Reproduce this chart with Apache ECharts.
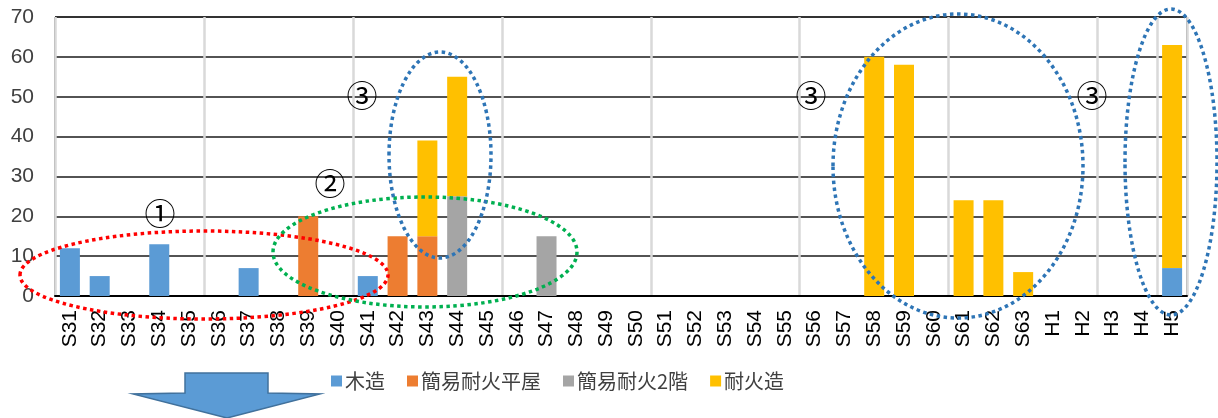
<!DOCTYPE html>
<html>
<head>
<meta charset="utf-8">
<script src="https://cdn.jsdelivr.net/npm/echarts@6/dist/echarts.min.js"></script>
<style>
  html, body { margin: 0; padding: 0; background: #fff; }
  #chart { width: 1218px; height: 418px; }
</style>
</head>
<body>
<div id="chart"></div>
<script>
// years (Showa / Heisei)
const years = ['S31', 'S32', 'S33', 'S34', 'S35', 'S36', 'S37', 'S38', 'S39', 'S40',
  'S41', 'S42', 'S43', 'S44', 'S45', 'S46', 'S47', 'S48', 'S49', 'S50',
  'S51', 'S52', 'S53', 'S54', 'S55', 'S56', 'S57', 'S58', 'S59', 'S60',
  'S61', 'S62', 'S63', 'H1', 'H2', 'H3', 'H4', 'H5'];

const seriesNames = ['木造', '簡易耐火平屋', '簡易耐火2階', '耐火造'];

const wood = [12, 5, null, 13, null, null, 7, null, null, null,
  5, null, null, null, null, null, null, null, null, null,
  null, null, null, null, null, null, null, null, null, null,
  null, null, null, null, null, null, null, 7];
const simpleOneStory = [null, null, null, null, null, null, null, null, 20, null,
  null, 15, 15, null, null, null, null, null, null, null,
  null, null, null, null, null, null, null, null, null, null,
  null, null, null, null, null, null, null, null];
const simpleTwoStory = [null, null, null, null, null, null, null, null, null, null,
  null, null, null, 25, null, null, 15, null, null, null,
  null, null, null, null, null, null, null, null, null, null,
  null, null, null, null, null, null, null, null];
const fireproof = [null, null, null, null, null, null, null, null, null, null,
  null, null, 24, 30, null, null, null, null, null, null,
  null, null, null, null, null, null, null, 60, 58, null,
  24, 24, 6, null, null, null, null, 56];

const colors = ['#5B9BD5', '#ED7D31', '#A5A5A5', '#FFC000'];

const chart = echarts.init(document.getElementById('chart'), null, { renderer: 'canvas' });

const dotted = (cx, cy, rx, ry, color) => ({
  type: 'ellipse',
  z: 100,
  shape: { cx, cy, rx, ry },
  style: { fill: 'none', stroke: color, lineWidth: 3.5, lineDash: [3.5, 3.5] }
});
const mark = (x, y, t) => ({
  type: 'text',
  z: 100,
  x, y,
  style: {
    text: t, fill: '#000', font: '31px "Noto Sans CJK JP"',
    align: 'center', verticalAlign: 'middle'
  }
});

const option = {
  animation: false,
  color: colors,
  grid: {
    left: 55, right: 31, top: 17, bottom: 122,
    show: true, borderColor: '#000', borderWidth: 1, containLabel: false
  },
  legend: {
    bottom: 22, left: 326,
    itemWidth: 11, itemHeight: 11, itemGap: 22,
    icon: 'rect',
    textStyle: { fontFamily: '"Noto Sans CJK JP"', fontSize: 20, color: '#404040', padding: [0, 0, 0, -2] },
    data: seriesNames
  },
  xAxis: {
    type: 'category',
    data: years,
    axisLine: { lineStyle: { color: '#000', width: 2 } },
    axisTick: { show: false },
    axisLabel: {
      rotate: 90, interval: 0, margin: 14,
      fontFamily: '"Liberation Sans", Arial', fontSize: 21, color: '#000'
    },
    splitLine: { show: true, interval: 4, lineStyle: { color: '#D9D9D9', width: 2.5 } }
  },
  yAxis: {
    type: 'value',
    min: 0, max: 70, interval: 10,
    axisLine: { show: false },
    axisTick: { show: false },
    axisLabel: {
      margin: 21,
      fontFamily: '"Liberation Sans", Arial', fontSize: 21, color: '#404040'
    },
    splitLine: { lineStyle: { color: '#1a1a1a', width: 1.5 } }
  },
  series: [wood, simpleOneStory, simpleTwoStory, fireproof].map((d, i) => ({
    name: seriesNames[i],
    type: 'bar',
    stack: 'total',
    barWidth: 20,
    data: d
  })),
  graphic: [
    // down arrow under the chart
    {
      type: 'polygon',
      shape: { points: [[185, 373], [268, 373], [268, 393], [320, 394], [227, 418], [133, 394], [185, 393]] },
      style: { fill: '#5B9BD5', stroke: '#41719C', lineWidth: 1.5 }
    },
    dotted(204, 275, 184, 44, '#FF0000'),
    dotted(425, 252, 152, 55, '#00B050'),
    dotted(440, 155, 51, 103, '#2E75B6'),
    dotted(958, 166, 125, 152, '#2E75B6'),
    dotted(1171, 162, 46, 153, '#2E75B6'),
    mark(160, 213, '①'),
    mark(330, 183, '②'),
    mark(362, 95, '③'),
    mark(811, 95, '③'),
    mark(1092, 95, '③')
  ]
};

chart.setOption(option);
</script>
</body>
</html>
